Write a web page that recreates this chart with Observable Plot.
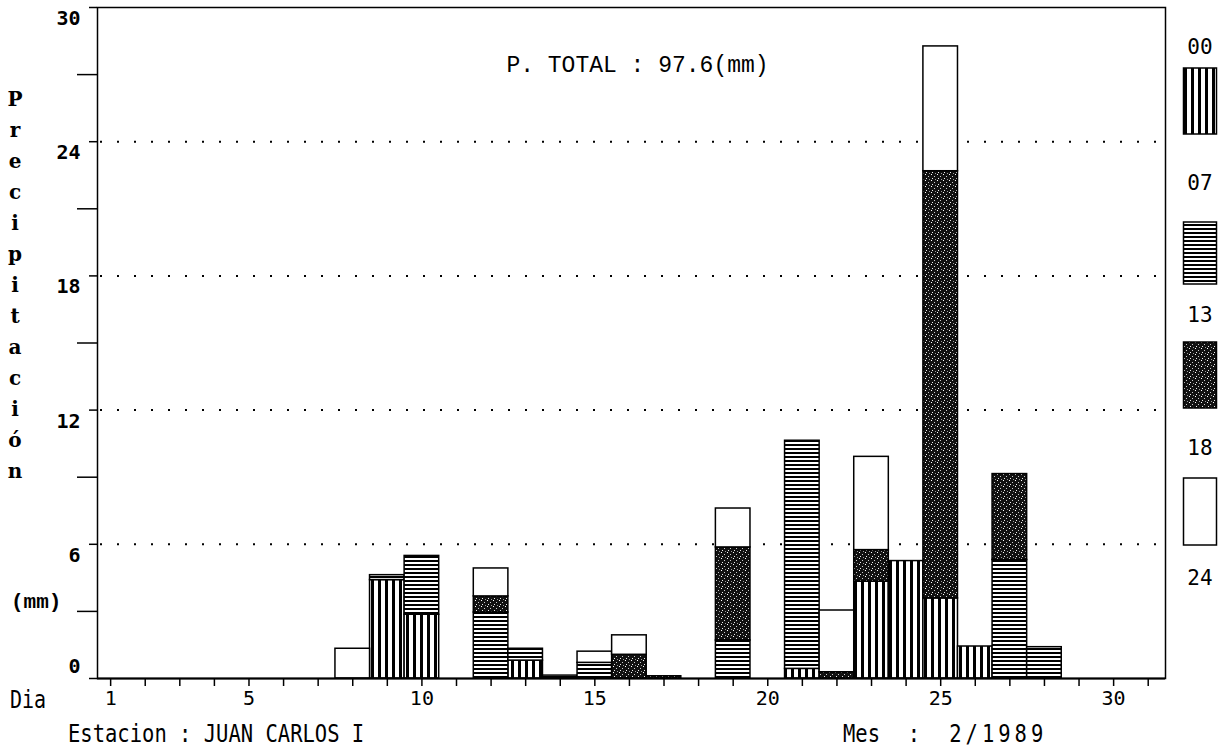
<!DOCTYPE html>
<html>
<head>
<meta charset="utf-8">
<script src="https://cdn.jsdelivr.net/npm/d3@7"></script>
<script src="https://cdn.jsdelivr.net/npm/@observablehq/plot@0.6"></script>
<style>
  body { margin: 0; background: #fff; }
  #wrap { position: relative; width: 1230px; height: 748px; overflow: hidden; background: #fff; }
  .t { position: absolute; color: #000; white-space: pre; line-height: 1; }
  .mono { font-family: "Liberation Mono", "DejaVu Sans Mono", monospace; }
  .serif { font-family: "DejaVu Serif", "Liberation Serif", serif; }
  .dos { font-family: "DejaVu Sans Mono", monospace; }
</style>
</head>
<body>
<svg width="0" height="0" style="position:absolute">
  <defs>
    <pattern id="p00" patternUnits="userSpaceOnUse" width="7" height="8">
      <rect width="7" height="8" fill="#fff"/>
      <rect x="0" width="3" height="8" fill="#000"/>
    </pattern>
    <pattern id="p07" patternUnits="userSpaceOnUse" width="8" height="4">
      <rect width="8" height="4" fill="#fff"/>
      <rect y="0" width="8" height="2" fill="#000"/>
    </pattern>
    <pattern id="p13" patternUnits="userSpaceOnUse" width="6" height="6">
      <rect width="6" height="6" fill="#111"/>
      <rect x="1" y="0" width="1" height="1" fill="#fff"/>
      <rect x="4" y="2" width="1" height="1" fill="#ccc"/>
      <rect x="2" y="4" width="1" height="1" fill="#eee"/>
      <rect x="5" y="5" width="1" height="1" fill="#999"/>
    </pattern>
    <pattern id="p18" patternUnits="userSpaceOnUse" width="4" height="4">
      <rect width="4" height="4" fill="#fff"/>
    </pattern>
  </defs>
</svg>
<div id="wrap"></div>
<script>
// ---- data ----
const days = d3.range(1, 29); // February 1989
const seriesKeys = ["00", "07", "13", "18"];
const legendLabels = ["00", "07", "13", "18", "24"];
//            1  2  3  4  5  6  7  8     9     10    11  12    13    14    15   16    17   18  19    20  21     22    23    24    25    26    27   28
const s00 = [0, 0, 0, 0, 0, 0, 0, 0,    4.40, 2.85, 0,  0,    0.80, 0,    0,   0,    0,   0,  0,    0,  0.43,  0,    4.33, 5.25, 3.58, 1.43, 0,   0];
const s07 = [0, 0, 0, 0, 0, 0, 0, 0,    0.22, 2.63, 0,  2.95, 0.53, 0.13, 0.70,0,    0,   0,  1.70, 0,  10.20, 0,    0,    0,    0,    0,    5.30,1.40];
const s13 = [0, 0, 0, 0, 0, 0, 0, 0,    0,    0,    0,  0.72, 0,    0,    0,   1.06, 0.10,0,  4.16, 0,  0,     0.28, 1.41, 0,    19.10,0,    3.84,0];
const s18 = [0, 0, 0, 0, 0, 0, 0, 1.33, 0,    0,    0,  1.25, 0,    0,    0.50,0.87, 0,   0,  1.74, 0,  0,     2.76, 4.17, 0,    5.58, 0,    0,   0];
const seriesValues = [s00, s07, s13, s18];

const yLabelTicks = [0, 6, 12, 18, 24, 30];
const yUpperLabels = [6, 12, 18, 24, 30];
const yZeroLabel = [0];
const yMinorTicks = [3, 9, 15, 21, 27];
const gridValues = [6, 12, 18, 24];
const xLabelTicks = [1, 5, 10, 15, 20, 25, 30];
const xAllTicks = d3.range(1, 32);

const totalLabel = "P. TOTAL : 97.6(mm)";
const yTitle = "Precipitación";
const unitLabel = "(mm)";
const xTitle = "Dia";
const stationLabel = "Estacion : JUAN CARLOS I";
const monthParts = ["Mes", "  :  ", "2/1989"];

// ---- stacking (bottom 00-07 up to 18-24) ----
const rows = [];
days.forEach((d, i) => {
  let base = 0;
  seriesKeys.forEach((k, j) => {
    const v = seriesValues[j][i];
    if (v > 0) { rows.push({day: d, series: k, y1: base, y2: base + v}); base += v; }
  });
});

const chart = Plot.plot({
  width: 1230,
  height: 748,
  marginLeft: 97,
  marginRight: 65,
  marginTop: 7,
  marginBottom: 70,
  x: {domain: [0.62, 31.5]},
  y: {domain: [0, 30]},
  style: {fontFamily: "'DejaVu Sans Mono', monospace", fontSize: "20px", color: "#000", background: "transparent", overflow: "visible"},
  marks: [
    Plot.gridY(gridValues, {stroke: "#000", strokeOpacity: 1, strokeWidth: 2, strokeDasharray: "2,15", strokeDashoffset: -20}),
    ...seriesKeys.map(k => Plot.rect(rows.filter(r => r.series === k), {
      x1: r => r.day - 0.5, x2: r => r.day + 0.5, y1: "y1", y2: "y2",
      fill: `url(#p${k})`, stroke: "#000", strokeWidth: 1.5
    })),
    Plot.frame({stroke: "#000", strokeWidth: 1.5}),
    Plot.axisY(yMinorTicks, {tickSize: 20, tickFormat: () => "", strokeWidth: 1.5, label: null}),
    Plot.axisY(yLabelTicks, {tickSize: 8, tickFormat: () => "", strokeWidth: 1.5, label: null}),
    Plot.axisY(yUpperLabels, {tickSize: 0, tickPadding: 17, dy: 11, fontWeight: "bold", fontSize: 20, label: null}),
    Plot.axisY(yZeroLabel, {tickSize: 0, tickPadding: 17, dy: -12, fontWeight: "bold", fontSize: 20, label: null}),
    Plot.axisX(xAllTicks, {tickSize: 8, tickFormat: () => "", strokeWidth: 1.5, label: null}),
    Plot.axisX(xLabelTicks, {tickSize: 0, tickPadding: 12, fontSize: 20, label: null}),
    Plot.ruleY([0], {stroke: "#000", strokeWidth: 2}),
    Plot.text([totalLabel], {frameAnchor: "top", dy: 48, dx: 6, fontSize: 23, fontFamily: "'Liberation Mono', monospace"})
  ]
});

const wrap = document.getElementById("wrap");
wrap.appendChild(chart);

function addText(str, cls, left, top, size, extra) {
  const el = document.createElement("div");
  el.className = "t " + cls;
  el.textContent = str;
  el.style.left = left + "px";
  el.style.top = top + "px";
  el.style.fontSize = size + "px";
  Object.assign(el.style, extra || {});
  wrap.appendChild(el);
  return el;
}

// vertical y title, one upright letter per line
addText(yTitle, "serif", 5, 87, 20, {writingMode: "vertical-lr", textOrientation: "upright", letterSpacing: "7px", fontWeight: "bold", lineHeight: "20px"});
addText(unitLabel, "mono", 11, 592, 21, {fontWeight: "bold"});
addText(xTitle, "dos", 10, 688, 20, {transform: "scaleY(1.2)", transformOrigin: "left top"});
addText(stationLabel, "dos", 68, 722, 20.5, {transform: "scaleY(1.2)", transformOrigin: "left top"});

// month line: one text element, spaced like the reference
const mes = addText("", "dos", 843, 722, 20.5, {transform: "scaleY(1.2)", transformOrigin: "left top"});
monthParts.forEach((p, i) => {
  const s = document.createElement("span");
  s.textContent = p;
  if (i === 1) s.style.letterSpacing = "1.5px";
  if (i === 2) s.style.letterSpacing = "4px";
  mes.appendChild(s);
});

// legend on the right
const legendLabelY = [47, 183, 315, 448, 578];
const legendBoxes = [[68, 134], [222, 284], [342, 408], [478, 545]];
const ns = "http://www.w3.org/2000/svg";
const leg = document.createElementNS(ns, "svg");
leg.setAttribute("width", 60); leg.setAttribute("height", 620);
leg.style.position = "absolute"; leg.style.left = "1170px"; leg.style.top = "0px";
wrap.appendChild(leg);
seriesKeys.forEach((k, i) => {
  const r = document.createElementNS(ns, "rect");
  r.setAttribute("x", 13.5); r.setAttribute("y", legendBoxes[i][0]);
  r.setAttribute("width", 33); r.setAttribute("height", legendBoxes[i][1] - legendBoxes[i][0]);
  r.setAttribute("fill", `url(#p${k})`); r.setAttribute("stroke", "#000"); r.setAttribute("stroke-width", 1.5);
  leg.appendChild(r);
});
legendLabels.forEach((lab, i) => {
  const t = document.createElementNS(ns, "text");
  t.setAttribute("x", 30); t.setAttribute("y", legendLabelY[i]);
  t.setAttribute("text-anchor", "middle"); t.setAttribute("dominant-baseline", "central");
  t.setAttribute("font-family", "'DejaVu Sans Mono', monospace"); t.setAttribute("font-size", 21);
  t.textContent = lab;
  leg.appendChild(t);
});
</script>
</body>
</html>
